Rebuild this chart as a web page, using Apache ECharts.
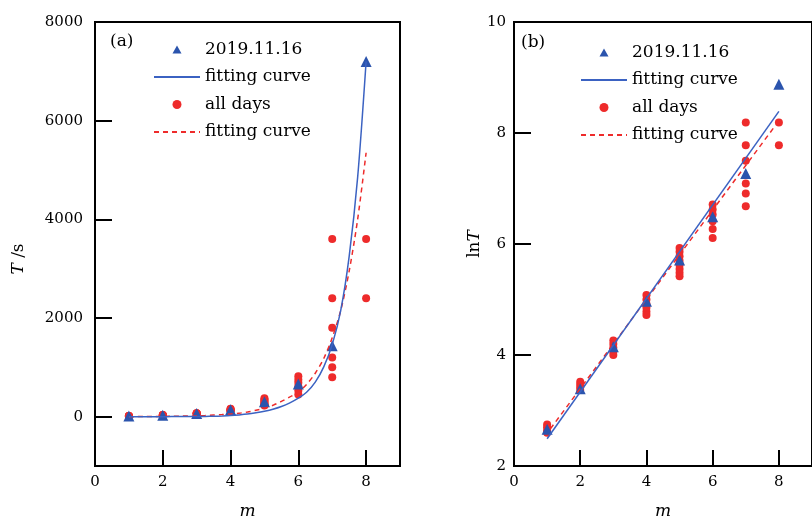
<!DOCTYPE html>
<html>
<head>
<meta charset="utf-8">
<script src="https://cdn.jsdelivr.net/npm/echarts@6/dist/echarts.min.js"></script>
<style>
html, body { margin: 0; padding: 0; background: #fff; }
#chart { width: 812px; height: 525px; }
</style>
</head>
<body>
<div id="chart"></div>
<script>
// 2019.11.16 measurements
var dayM = [1, 2, 3, 4, 5, 6, 7, 8];
var dayT = [15, 30, 62, 140, 300, 660, 1440, 7200];
var dayLnT = [2.66, 3.39, 4.15, 4.97, 5.71, 6.49, 7.27, 8.88];

// all days
var allM = [1, 1, 1, 1,
  2, 2, 2, 2,
  3, 3, 3, 3, 3,
  4, 4, 4, 4, 4, 4,
  5, 5, 5, 5, 5, 5, 5, 5,
  6, 6, 6, 6, 6, 6,
  7, 7, 7, 7, 7, 7,
  8, 8];
var allT = [16, 15, 14, 13,
  34, 32, 30, 29,
  71, 67, 62, 58, 55,
  160, 148, 137, 128, 120, 112,
  375, 350, 325, 300, 275, 257, 240, 225,
  820, 750, 685, 610, 530, 450,
  3600, 2400, 1800, 1200, 1000, 800,
  3600, 2400];
var allLnT = [2.75, 2.70, 2.64, 2.60,
  3.52, 3.47, 3.42, 3.37,
  4.26, 4.20, 4.13, 4.06, 4.00,
  5.08, 5.00, 4.92, 4.85, 4.78, 4.72,
  5.93, 5.86, 5.78, 5.70, 5.62, 5.55, 5.48, 5.42,
  6.71, 6.62, 6.53, 6.41, 6.27, 6.11,
  8.19, 7.78, 7.50, 7.09, 6.91, 6.68,
  8.19, 7.78];

// fitting curves, panel (a), read every 0.25 in m
var fitM = [1, 1.25, 1.5, 1.75, 2, 2.25, 2.5, 2.75, 3, 3.25, 3.5, 3.75, 4, 4.25, 4.5,
  4.75, 5, 5.25, 5.5, 5.75, 6, 6.25, 6.5, 6.75, 7, 7.25, 7.5, 7.75, 8];
var fitDayT = [0, 0, 0, 0, 0, 1, 1, 2, 3, 5, 8, 14, 22, 35, 52,
  78, 110, 150, 205, 280, 375, 500, 700, 1010, 1460, 2150, 3250, 4850, 7200];
var fitAllT = [0, 1, 2, 3, 5, 7, 10, 14, 18, 24, 32, 42, 55, 70, 95,
  130, 170, 230, 310, 400, 500, 660, 880, 1180, 1600, 2150, 2950, 4000, 5350];

// fitting lines, panel (b)
var fitDayLnM = [1, 8];
var fitDayLnT = [2.49, 8.39];
var fitAllLnM = [1.1, 7.9];
var fitAllLnT = [2.67, 8.14];

function pairs(xs, ys) {
  return xs.map(function (x, i) { return [x, ys[i]]; });
}

var blue = "#2b54ad";
var blueLine = "#3b62c2";
var red = "#ee2b2b";
var serif = "DejaVu Serif";

var labelStyle = { color: "#000", fontFamily: serif, fontSize: 15 };
var nameStyle = {
  color: "#000", fontFamily: serif, fontSize: 17,
  rich: { i: { fontStyle: "italic", fontFamily: serif, fontSize: 17 } }
};

function xAx(grid) {
  return {
    type: "value", gridIndex: grid, min: 0, max: 9, interval: 2,
    name: "{i|m}", nameLocation: "middle", nameGap: 37, nameTextStyle: nameStyle,
    axisLine: { onZero: false, lineStyle: { color: "#000", width: 2 } },
    axisTick: { inside: true, length: 16, lineStyle: { color: "#000", width: 2 } },
    axisLabel: Object.assign({ margin: 9, showMaxLabel: false }, labelStyle),
    splitLine: { show: false }
  };
}

// small triangle centred in the 46x9 legend box (corner specks fix the box)
var legendTriangle = "path://M0,9L0.01,9L0,9.01Z M46,9L45.99,9L46,8.99Z M23,1L27.5,9L18.5,9Z";

var legendData = [
  { name: "2019.11.16", icon: legendTriangle },
  { name: "fitting curve", itemStyle: { opacity: 0 } },
  { name: "all days" },
  { name: "fitting curve ", itemStyle: { opacity: 0 } }
];

function legend(left, top) {
  return {
    orient: "vertical", left: left, top: top, padding: 0,
    itemWidth: 46, itemHeight: 9, itemGap: 10.5,
    textStyle: { color: "#000", fontFamily: serif, fontSize: 17 },
    data: legendData, selectedMode: false
  };
}

var option = {
  animation: false,
  title: [
    { text: "(a)", left: 105, top: 28, textStyle: { fontFamily: serif, fontSize: 17, fontWeight: "normal", color: "#000" } },
    { text: "(b)", left: 516, top: 29, textStyle: { fontFamily: serif, fontSize: 17, fontWeight: "normal", color: "#000" } }
  ],
  legend: [legend(153, 41), legend(580, 44)],
  grid: [
    { left: 95, top: 22, right: 412, bottom: 50, show: true, borderColor: "#000", borderWidth: 2 },
    { left: 514, top: 22, right: -7, bottom: 49, show: true, borderColor: "#000", borderWidth: 2 }
  ],
  xAxis: [xAx(0), xAx(1)],
  yAxis: [
    {
      type: "value", gridIndex: 0, min: -1000, max: 8000, splitNumber: 5,
      name: "{i|T} /s", nameLocation: "middle", nameGap: 68,
      nameTextStyle: Object.assign({ padding: [0, 30, 0, 0] }, nameStyle),
      axisLine: { onZero: false, lineStyle: { color: "#000", width: 2 } },
      axisTick: { inside: true, length: 17, lineStyle: { color: "#000", width: 2 } },
      axisLabel: Object.assign({ margin: 12, showMinLabel: false, formatter: function (v) { return String(v); } }, labelStyle),
      splitLine: { show: false }
    },
    {
      type: "value", gridIndex: 1, min: 2, max: 10, interval: 2,
      name: "ln{i|T}", nameLocation: "middle", nameGap: 26, nameTextStyle: nameStyle,
      axisLine: { onZero: false, lineStyle: { color: "#000", width: 2 } },
      axisTick: { inside: true, length: 17, lineStyle: { color: "#000", width: 2 } },
      axisLabel: Object.assign({ margin: 8 }, labelStyle),
      splitLine: { show: false }
    }
  ],
  series: [
    // panel (a)
    { name: "all days", type: "scatter", xAxisIndex: 0, yAxisIndex: 0, symbol: "circle", symbolSize: 8,
      itemStyle: { color: red, opacity: 1 }, data: pairs(allM, allT) },
    { name: "fitting curve ", type: "line", xAxisIndex: 0, yAxisIndex: 0, symbol: "none", smooth: 0.3,
      lineStyle: { color: red, width: 1.5, type: [5, 4] }, itemStyle: { color: red }, data: pairs(fitM, fitAllT) },
    { name: "fitting curve", type: "line", xAxisIndex: 0, yAxisIndex: 0, symbol: "none", smooth: 0.3,
      lineStyle: { color: blueLine, width: 1.5 }, itemStyle: { color: blueLine }, data: pairs(fitM, fitDayT) },
    { name: "2019.11.16", type: "scatter", xAxisIndex: 0, yAxisIndex: 0, symbol: "triangle", symbolSize: 11,
      itemStyle: { color: blue, opacity: 1 }, data: pairs(dayM, dayT) },
    // panel (b)
    { name: "all days", type: "scatter", xAxisIndex: 1, yAxisIndex: 1, symbol: "circle", symbolSize: 8,
      itemStyle: { color: red, opacity: 1 }, data: pairs(allM, allLnT) },
    { name: "fitting curve ", type: "line", xAxisIndex: 1, yAxisIndex: 1, symbol: "none",
      lineStyle: { color: red, width: 1.5, type: [5, 4] }, itemStyle: { color: red }, data: pairs(fitAllLnM, fitAllLnT) },
    { name: "fitting curve", type: "line", xAxisIndex: 1, yAxisIndex: 1, symbol: "none",
      lineStyle: { color: blueLine, width: 1.5 }, itemStyle: { color: blueLine }, data: pairs(fitDayLnM, fitDayLnT) },
    { name: "2019.11.16", type: "scatter", xAxisIndex: 1, yAxisIndex: 1, symbol: "triangle", symbolSize: 11,
      itemStyle: { color: blue, opacity: 1 }, data: pairs(dayM, dayLnT) }
  ]
};

var myChart = echarts.init(document.getElementById("chart"));
myChart.setOption(option);
</script>
</body>
</html>
